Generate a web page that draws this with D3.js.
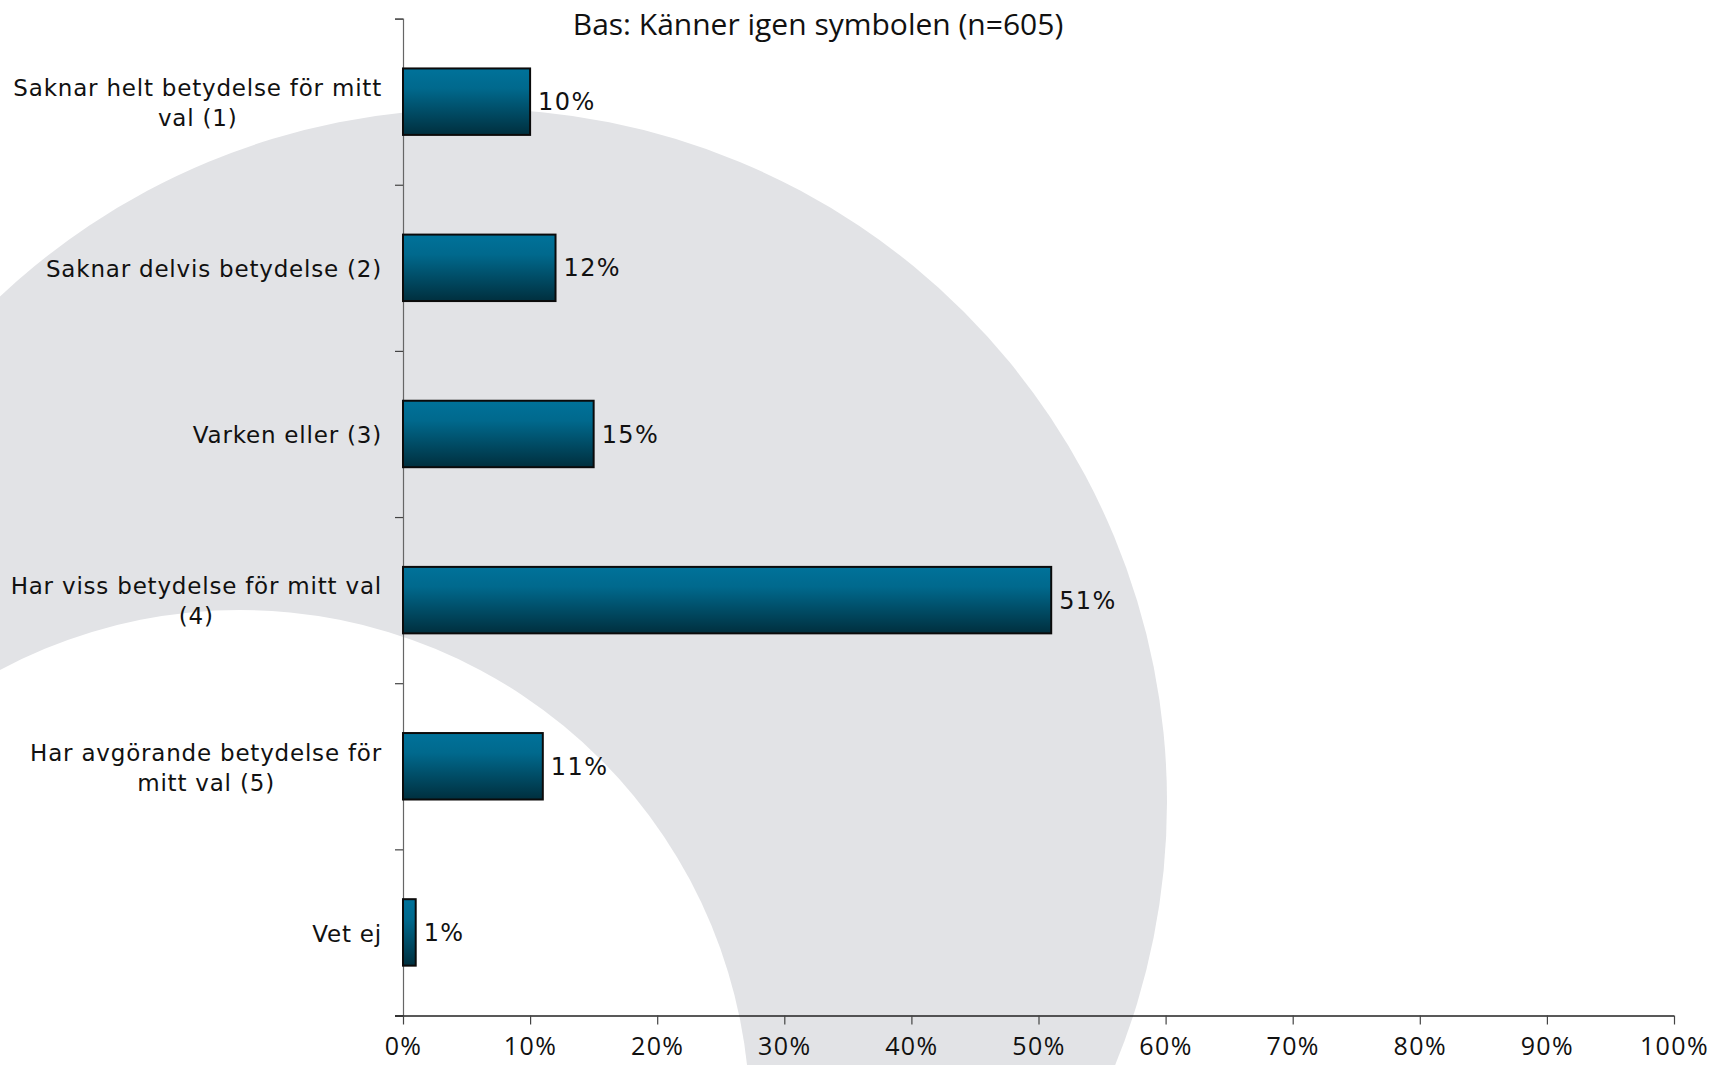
<!DOCTYPE html>
<html>
<head>
<meta charset="utf-8">
<script src="https://cdn.jsdelivr.net/npm/d3@7"></script>
<style>
  html, body { margin: 0; padding: 0; background: #fff; }
  svg { display: block; }
</style>
</head>
<body>
<svg id="chart"></svg>
<script>
// data
const titleText = 'Bas: Känner igen symbolen (n=605)';
const categories = [
  ['Saknar helt betydelse för mitt', 'val (1)'],
  ['Saknar delvis betydelse (2)'],
  ['Varken eller (3)'],
  ['Har viss betydelse för mitt val', '(4)'],
  ['Har avgörande betydelse för', 'mitt val (5)'],
  ['Vet ej']
];
const values = [10, 12, 15, 51, 11, 1];
const xTicks = [0, 10, 20, 30, 40, 50, 60, 70, 80, 90, 100];

const W = 1714, H = 1065;
const margin = {top: 18.6, left: 403, right: 40, bottom: 49.5};

const svg = d3.select('#chart')
  .attr('width', W)
  .attr('height', H);

// background logo arc
svg.append('circle')
  .attr('cx', 474).attr('cy', 802)
  .attr('r', 693)
  .attr('fill', '#e2e3e6');
svg.append('circle')
  .attr('cx', 240).attr('cy', 1120)
  .attr('r', 510)
  .attr('fill', '#fff');

const defs = svg.append('defs');
const grad = defs.append('linearGradient')
  .attr('id', 'barGrad')
  .attr('x1', 0).attr('y1', 0).attr('x2', 0).attr('y2', 1);
grad.append('stop').attr('offset', '0%').attr('stop-color', '#00729a');
grad.append('stop').attr('offset', '30%').attr('stop-color', '#00698d');
grad.append('stop').attr('offset', '100%').attr('stop-color', '#002f3e');

const x = d3.scaleLinear()
  .domain([0, 100])
  .range([margin.left, W - margin.right]);

const y = d3.scaleBand()
  .domain(d3.range(categories.length))
  .range([margin.top, H - margin.bottom])
  .paddingInner(0.6)
  .paddingOuter(0.3);

const yEdge = d3.scaleLinear()
  .domain([0, categories.length])
  .range([margin.top, H - margin.bottom]);

// y axis (ticks between categories)
const yAxis = svg.append('g')
  .attr('transform', 'translate(' + margin.left + ',0)')
  .call(d3.axisLeft(yEdge)
    .tickValues(d3.range(categories.length + 1))
    .tickSize(8)
    .tickFormat(''));
yAxis.select('.domain').attr('stroke', '#666').attr('stroke-width', 1.2);
yAxis.selectAll('.tick line').attr('stroke', '#444').attr('stroke-width', 1.2);

// x axis
const xAxis = svg.append('g')
  .attr('transform', 'translate(0,' + (H - margin.bottom) + ')')
  .call(d3.axisBottom(x)
    .tickValues(xTicks)
    .tickSize(9)
    .tickSizeOuter(0)
    .tickPadding(13)
    .tickFormat(d => d + '%'));
xAxis.select('.domain')
  .attr('d', 'M' + (margin.left - 8) + ',0.5H' + x(100))
  .attr('stroke', '#222').attr('stroke-width', 1.5);
xAxis.selectAll('.tick line').attr('stroke', '#444').attr('stroke-width', 1.2);
xAxis.selectAll('.tick text')
  .attr('fill', '#111')
  .style('font-family', '"Open Sans", Lato, sans-serif')
  .style('font-size', '25px')
  .style('letter-spacing', '1.4px');

// bars
svg.append('g').selectAll('rect')
  .data(values)
  .join('rect')
  .attr('x', x(0))
  .attr('y', (d, i) => y(i))
  .attr('width', d => x(d) - x(0))
  .attr('height', y.bandwidth())
  .attr('fill', 'url(#barGrad)')
  .attr('stroke', '#0b0b0b')
  .attr('stroke-width', 2);

// value labels
svg.append('g').selectAll('text')
  .data(values)
  .join('text')
  .attr('x', d => x(d) + 8)
  .attr('y', (d, i) => y(i) + y.bandwidth() / 2)
  .attr('dy', '0.36em')
  .attr('fill', '#111')
  .style('font-family', '"DejaVu Sans", Verdana, sans-serif')
  .style('font-size', '24px')
  .style('letter-spacing', '1.4px')
  .text(d => d + '%');

// category labels
const lineH = 30;
const cat = svg.append('g').selectAll('text')
  .data(categories)
  .join('text')
  .attr('text-anchor', 'middle')
  .attr('fill', '#111')
  .style('font-family', '"DejaVu Sans", Verdana, sans-serif')
  .style('font-size', '23px')
  .style('letter-spacing', '0.8px');

cat.each(function(lines, i) {
  const t = d3.select(this);
  const cy = y(i) + y.bandwidth() / 2 + 1;
  const y0 = cy - (lines.length - 1) * lineH / 2;
  lines.forEach((ln, k) => {
    t.append('tspan')
      .attr('y', y0 + k * lineH)
      .attr('dy', '0.36em')
      .text(ln);
  });
  // centre the block on its widest line, right edge near the axis
  let maxW = 0;
  t.selectAll('tspan').each(function() {
    maxW = Math.max(maxW, this.getComputedTextLength());
  });
  t.selectAll('tspan').attr('x', margin.left - 21 - maxW / 2);
});

// title
svg.append('text')
  .attr('x', 818)
  .attr('y', 24)
  .attr('dy', '0.36em')
  .attr('text-anchor', 'middle')
  .attr('fill', '#111')
  .style('font-family', '"Open Sans", Lato, sans-serif')
  .style('font-size', '30px')
  .text(titleText);
</script>
</body>
</html>
